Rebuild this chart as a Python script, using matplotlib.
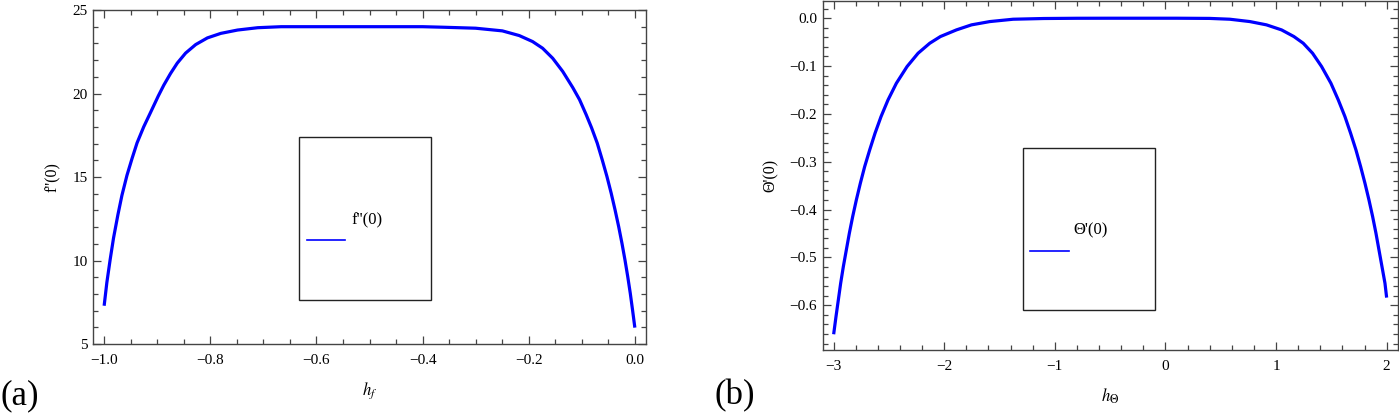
import matplotlib
matplotlib.use("Agg")
import matplotlib.pyplot as plt
from matplotlib.patches import Rectangle
from matplotlib.ticker import MultipleLocator

plt.rcParams['font.family'] = ['Liberation Serif', 'DejaVu Serif']
plt.rcParams['mathtext.fontset'] = 'stix'

# ---- data panel (a): f''(0) vs h_f ----
hf = [-1.0, -0.9949, -0.9886, -0.9823, -0.974, -0.9665, -0.957, -0.9475,
      -0.938, -0.9255, -0.9128, -0.898, -0.8876, -0.8749, -0.8622, -0.8465,
      -0.8275, -0.8054, -0.7802, -0.7486, -0.7106, -0.6665, -0.6, -0.55,
      -0.5, -0.45, -0.4, -0.3633, -0.3002, -0.2497, -0.2179, -0.1927,
      -0.1738, -0.1548, -0.1359, -0.1169, -0.1042, -0.0917, -0.0816, -0.0709,
      -0.0615, -0.0526, -0.0446, -0.0373, -0.0305, -0.0243, -0.0186, -0.0134,
      -0.0086, -0.0042, 0.0]
fpp = [7.29, 8.68, 10.07, 11.35, 12.75, 13.9, 15.1, 16.1,
       17.04, 18.0, 18.85, 19.85, 20.5, 21.2, 21.82, 22.42,
       22.93, 23.33, 23.6, 23.8, 23.94, 24.0, 24.0, 24.0,
       24.0, 24.0, 24.0, 23.97, 23.91, 23.75, 23.47, 23.11,
       22.71, 22.11, 21.32, 20.35, 19.63, 18.73, 17.95, 17.03,
       16.03, 15.03, 14.03, 13.03, 12.03, 11.03, 10.03, 9.03,
       8.03, 7.0, 5.98]

# ---- data panel (b): Theta'(0) vs h_Theta ----
ht = [-3.0, -2.9789, -2.9578, -2.9367, -2.9125, -2.8854, -2.8582, -2.828,
      -2.7949, -2.7587, -2.7195, -2.6742, -2.6259, -2.5716, -2.5083, -2.4329,
      -2.3363, -2.2368, -2.1312, -2.0347, -1.8899, -1.7541, -1.5882, -1.3771,
      -1.1, -0.8, -0.5, -0.2, 0.1, 0.4, 0.5822, 0.7632, 0.914, 1.0498, 1.1614,
      1.2459, 1.3303, 1.4118, 1.4962, 1.5626, 1.6229, 1.6742, 1.7225, 1.7647,
      1.8039, 1.8401, 1.8733, 1.9035, 1.9306, 1.9578, 1.9849, 2.0]
thp = [-0.6606, -0.6237, -0.5889, -0.554, -0.5192, -0.4843, -0.4495, -0.4146,
       -0.3798, -0.3449, -0.3101, -0.2753, -0.2404, -0.2056, -0.1707, -0.1359,
       -0.101, -0.0732, -0.0523, -0.0383, -0.0244, -0.0139, -0.007, -0.0021,
       -0.0006, -0.0001, 0.0, 0.0, 0.0, -0.0004, -0.0021, -0.007, -0.0139,
       -0.0244, -0.0383, -0.0523, -0.0732, -0.101, -0.1359, -0.1707, -0.2056,
       -0.2404, -0.2753, -0.3101, -0.3449, -0.3798, -0.4146, -0.4495, -0.4843,
       -0.5192, -0.554, -0.584]

W, H = 1399, 415
fig = plt.figure(figsize=(W / 100, H / 100), dpi=100)

def px_axes(l, r, t, b):
    return fig.add_axes([l / W, 1 - b / H, (r - l) / W, (b - t) / H])

blue = (0, 0, 1)
frame_col = '#444444'

def style(ax, xmaj, xmin, ymaj, ymin):
    ax.xaxis.set_major_locator(MultipleLocator(xmaj))
    ax.xaxis.set_minor_locator(MultipleLocator(xmin))
    ax.yaxis.set_major_locator(MultipleLocator(ymaj))
    ax.yaxis.set_minor_locator(MultipleLocator(ymin))
    ax.tick_params(which='both', direction='in', top=True, right=True,
                   color=frame_col, width=0.9, labelsize=11)
    ax.tick_params(which='major', length=6)
    ax.tick_params(which='minor', length=3.5)
    ax.tick_params(axis='x', which='major', pad=7)
    ax.tick_params(axis='y', which='major', pad=4)
    for s in ax.spines.values():
        s.set_color(frame_col)
        s.set_linewidth(1.0)

# panel (a)
ax1 = px_axes(93, 646, 10, 344)
ax1.plot(hf, fpp, color=blue, lw=2.3, solid_capstyle='butt', solid_joinstyle='round')
ax1.set_xlim(-1.021, 0.021)
ax1.set_ylim(5, 25)
style(ax1, 0.2, 0.05, 5, 1)
ax1.set_xticks([-1.0, -0.8, -0.6, -0.4, -0.2, 0.0])
ax1.set_xticklabels(['\u22121.0', '\u22120.8', '\u22120.6', '\u22120.4', '\u22120.2', '0.0'])
ax1.set_xlabel(r'$h_f$', fontsize=12, labelpad=10)
ax1.set_ylabel("f''(0)", fontsize=11.5, labelpad=8)
ax1.add_patch(Rectangle((0.373, 0.132), 0.2377, 0.487, transform=ax1.transAxes,
                        fill=False, ec='#222222', lw=1.0))
ax1.plot([0.3864, 0.4557], [0.3114, 0.3114], transform=ax1.transAxes,
         color=blue, lw=1.2)
ax1.text(0.4666, 0.371, "f''(0)", transform=ax1.transAxes, fontsize=12,
         va='center', ha='left')

# panel (b)
ax2 = px_axes(822.6, 1397.7, 1, 350)
ax2.plot(ht, thp, color=blue, lw=2.3, solid_capstyle='butt', solid_joinstyle='round')
ax2.set_xlim(-3.1, 2.1)
ax2.set_ylim(-0.6935, 0.036)
style(ax2, 1, 0.2, 0.1, 0.02)
ax2.set_xticks([-3, -2, -1, 0, 1, 2])
ax2.set_xticklabels(['\u22123', '\u22122', '\u22121', '0', '1', '2'])
ax2.set_yticks([0.0, -0.1, -0.2, -0.3, -0.4, -0.5, -0.6])
ax2.set_yticklabels(['0.0', '\u22120.1', '\u22120.2', '\u22120.3', '\u22120.4',
                     '\u22120.5', '\u22120.6'])
ax2.set_xlabel(r'$h_\Theta$', fontsize=12, labelpad=10)
ax2.set_ylabel("\u0398'(0)", fontsize=11.5, labelpad=8)
ax2.add_patch(Rectangle((0.3488, 0.1158), 0.2287, 0.4624, transform=ax2.transAxes,
                        fill=False, ec='#222222', lw=1.0))
ax2.plot([0.3613, 0.4286], [0.2842, 0.2842], transform=ax2.transAxes,
         color=blue, lw=1.2)
ax2.text(0.4364, 0.3441, "\u0398'(0)", transform=ax2.transAxes, fontsize=12,
         va='center', ha='left')

fig.text(0 / W, 1 - 396 / H, '(a)', fontsize=25, va='center', ha='left')
fig.text(714 / W, 1 - 396 / H, '(b)', fontsize=25, va='center', ha='left')

fig.savefig('out.png', dpi=100)
